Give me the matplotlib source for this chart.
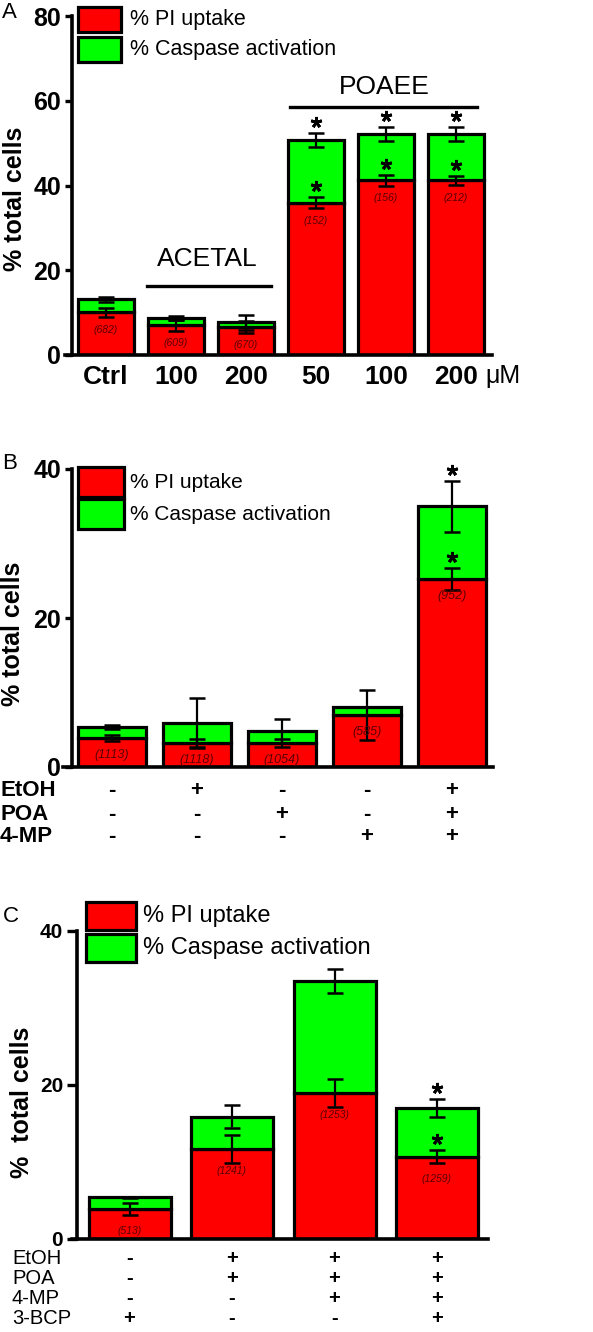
import numpy as np
import matplotlib.pyplot as plt
from matplotlib.patches import Rectangle
from matplotlib import transforms

plt.rcParams['font.family'] = ['Liberation Sans', 'DejaVu Sans']

W, H = 593, 1332
RED = '#ff0000'
GREEN = '#00ff00'
NCOL = '#5a0000'

# Panel A
a_labels = ['Ctrl', '100', '200', '50', '100', '200']
a_pi = [10.1, 7.0, 6.6, 35.9, 41.2, 41.2]
a_pi_err = [1.1, 1.3, 1.4, 1.3, 1.2, 1.1]
a_total = [13.2, 8.8, 7.7, 50.7, 52.1, 52.1]
a_total_err = [0.6, 0.5, 1.7, 1.7, 1.7, 1.7]
a_n = ['(682)', '(609)', '(670)', '(152)', '(156)', '(212)']
a_star_top = [False, False, False, True, True, True]
a_star_pi = [False, False, False, True, True, True]

# Panel B
b_pi = [3.9, 3.2, 3.2, 7.0, 25.2]
b_pi_err = [0.4, 0.5, 0.5, 3.4, 1.5]
b_total = [5.4, 5.9, 4.8, 8.1, 35.0]
b_total_err = [0.3, 3.3, 1.6, 0.0, 3.4]
b_n = ['(1113)', '(1118)', '(1054)', '(585)', '(952)']
b_rows = ['EtOH', 'POA', '4-MP']
b_signs = [['-', '+', '-', '-', '+'],
           ['-', '-', '+', '-', '+'],
           ['-', '-', '-', '+', '+']]
b_star_top = [False, False, False, False, True]
b_star_pi = [False, False, False, False, True]

# Panel C
c_pi = [3.9, 11.7, 19.0, 10.7]
c_pi_err = [0.8, 1.8, 1.8, 0.8]
c_total = [5.4, 15.9, 33.5, 17.0]
c_total_err = [0.1, 1.5, 1.6, 1.2]
c_n = ['(513)', '(1241)', '(1253)', '(1259)']
c_rows = ['EtOH', 'POA', '4-MP', '3-BCP']
c_signs = [['-', '+', '+', '+'],
           ['-', '+', '+', '+'],
           ['-', '-', '+', '+'],
           ['+', '-', '-', '+']]
c_star_top = [False, False, False, True]
c_star_pi = [False, False, False, True]

fig = plt.figure(figsize=(W / 100, H / 100), dpi=100)


def fx(x):
    return x / W


def fy(y):
    return 1 - y / H


def make_axes(left, right, top, bottom, spine_x, c0, step, ymax):
    ax = fig.add_axes([fx(left), fy(bottom), (right - left) / W, (bottom - top) / H])
    ax.set_xlim((left - c0) / step, (right - c0) / step)
    ax.set_ylim(0, ymax)
    ax.spines['top'].set_visible(False)
    ax.spines['right'].set_visible(False)
    ax.spines['left'].set_position(('data', (spine_x - c0) / step))
    ax.spines['left'].set_linewidth(2.6)
    ax.spines['bottom'].set_linewidth(2.6)
    ax.tick_params(axis='y', length=5, width=2.4, direction='out')
    ax.tick_params(axis='x', length=0)
    return ax


def draw_bars(ax, pi, pi_err, total, total_err, n_lab, n_off, n_size, star_top, star_pi):
    x = np.arange(len(pi))
    pi = np.array(pi)
    total = np.array(total)
    ax.bar(x, pi, 0.8, color=RED, edgecolor='black', linewidth=2.3, zorder=2)
    ax.bar(x, total - pi, 0.8, bottom=pi, color=GREEN, edgecolor='black', linewidth=2.3, zorder=2)
    ax.errorbar(x, pi, yerr=pi_err, fmt='none', ecolor='black', elinewidth=1.6,
                capsize=6, capthick=1.8, zorder=3)
    ax.errorbar(x, total, yerr=total_err, fmt='none', ecolor='black', elinewidth=1.6,
                capsize=6, capthick=1.8, zorder=3)
    lab_tr = transforms.offset_copy(ax.transData, fig=fig, y=-n_off, units='dots')
    for i in x:
        ax.text(i, pi[i], n_lab[i], transform=lab_tr, ha='center', va='center',
                fontsize=n_size, style='italic', color=NCOL, zorder=4)
    up = transforms.offset_copy(ax.transData, fig=fig, y=11, units='dots')
    for i in x:
        if star_top[i]:
            ax.plot(i, total[i] + total_err[i], marker=(5, 2, 0), ms=8, mew=2.0,
                    color='black', transform=up, clip_on=False, zorder=5)
        if star_pi[i]:
            ax.plot(i, pi[i] + pi_err[i], marker=(5, 2, 0), ms=8, mew=2.0,
                    color='black', transform=up, clip_on=False, zorder=5)


def legend_box(x0, x1, ys, h, tx, size, weight='normal'):
    texts = ['% PI uptake', '% Caspase activation']
    for col, yc, t in zip([RED, GREEN], ys, texts):
        fig.add_artist(Rectangle((fx(x0), fy(yc + h / 2)), (x1 - x0) / W, h / H,
                                 transform=fig.transFigure, facecolor=col,
                                 edgecolor='black', linewidth=2.3))
        fig.text(fx(tx), fy(yc), t, ha='left', va='center', fontsize=size, fontweight=weight)


def sign_rows(ax, rows, signs, ys, lx, size, weight):
    tr = transforms.blended_transform_factory(ax.transData, fig.transFigure)
    for r, row in enumerate(rows):
        fig.text(fx(lx), fy(ys[r]), row, ha='left', va='center', fontsize=size, fontweight=weight)
        for i, s in enumerate(signs[r]):
            ax.text(i, fy(ys[r]), s, transform=tr, ha='center', va='center',
                    fontsize=size, fontweight='bold', clip_on=False)


# ---- A ----
axA = make_axes(65, 492, 16, 355, 72, 106, 70, 80)
draw_bars(axA, a_pi, a_pi_err, a_total, a_total_err, a_n, 18, 7.5, a_star_top, a_star_pi)
axA.set_yticks([0, 20, 40, 60, 80])
axA.set_xticks(range(len(a_labels)))
axA.set_xticklabels(a_labels)
for t in axA.get_yticklabels():
    t.set_fontsize(18)
    t.set_fontweight('bold')
for t in axA.get_xticklabels():
    t.set_fontsize(19)
    t.set_fontweight('bold')
axA.tick_params(axis='y', pad=3)
axA.tick_params(axis='x', pad=7)
axA.set_ylabel('% total cells', fontsize=18, fontweight='bold')
axA.yaxis.set_label_coords((27 - 65) / 427, (355 - 199) / 339)
axA.plot([0.59, 2.36], [16.3, 16.3], color='black', lw=2.4, clip_on=False)
axA.text(1.45, 22.7, 'ACETAL', ha='center', va='center', fontsize=19)
axA.plot([2.63, 5.3], [58.5, 58.5], color='black', lw=2.4, clip_on=False)
axA.text(3.97, 63.2, 'POAEE', ha='center', va='center', fontsize=19)
fig.text(fx(485), fy(376), '\u03bcM', ha='left', va='center', fontsize=18)
legend_box(78, 121, [19.5, 49.5], 25, 130, 15.5)
fig.text(fx(2), fy(13), 'A', ha='left', va='center', fontsize=16)

# ---- B ----
axB = make_axes(63, 493, 469, 767, 72, 112, 85, 40)
draw_bars(axB, b_pi, b_pi_err, b_total, b_total_err, b_n, 17, 9, b_star_top, b_star_pi)
axB.set_yticks([0, 20, 40])
axB.set_xticks([])
for t in axB.get_yticklabels():
    t.set_fontsize(18)
    t.set_fontweight('bold')
axB.tick_params(axis='y', pad=3)
axB.set_ylabel('% total cells', fontsize=18, fontweight='bold')
axB.yaxis.set_label_coords((25 - 63) / 430, (767 - 634) / 298)
sign_rows(axB, b_rows, b_signs, [791, 814, 837], 0, 16, 'bold')
legend_box(78, 124, [482, 514], 29, 130, 15)
fig.text(fx(2), fy(464), 'B', ha='left', va='center', fontsize=16)

# ---- C ----
axC = make_axes(72, 488, 931, 1239, 77, 129.5, 102.5, 40)
draw_bars(axC, c_pi, c_pi_err, c_total, c_total_err, c_n, 22, 7.5, c_star_top, c_star_pi)
axC.set_yticks([0, 20, 40])
axC.set_xticks([])
for t in axC.get_yticklabels():
    t.set_fontsize(15)
    t.set_fontweight('bold')
axC.tick_params(axis='y', pad=3, length=7)
axC.set_ylabel('%  total cells', fontsize=18, fontweight='bold')
axC.yaxis.set_label_coords((34 - 72) / 416, (1239 - 1102) / 308)
sign_rows(axC, c_rows, c_signs, [1258, 1279, 1299, 1319], 12, 14.5, 'normal')
legend_box(86, 136, [916, 948], 28, 143, 17)
fig.text(fx(3), fy(916), 'C', ha='left', va='center', fontsize=16)

fig.savefig('out.png', dpi=100)
